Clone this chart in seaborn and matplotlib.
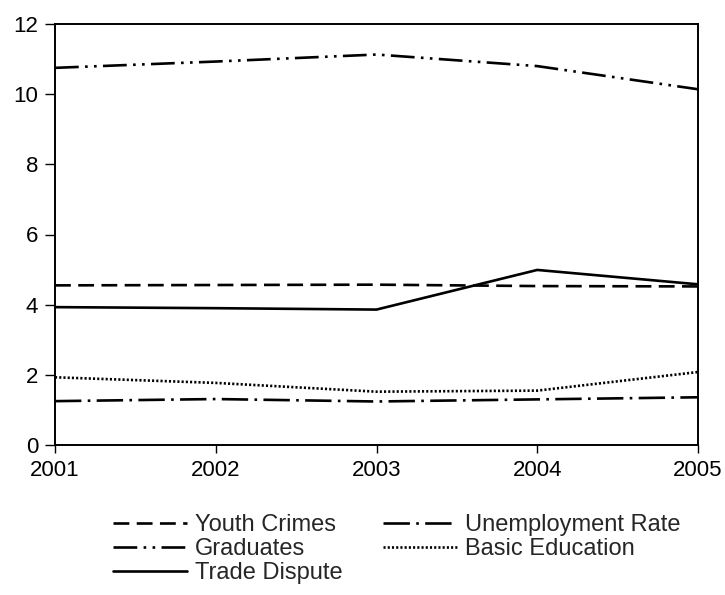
import matplotlib
matplotlib.use("Agg")
import matplotlib.pyplot as plt
import seaborn as sns
import pandas as pd
from matplotlib.lines import Line2D

years = [2001, 2002, 2003, 2004, 2005]
series_names = ["Youth Crimes", "Graduates", "Trade Dispute", "Unemployment Rate", "Basic Education"]
youth_crimes = [4.55, 4.56, 4.57, 4.53, 4.52]
graduates = [10.75, 10.93, 11.13, 10.80, 10.14]
trade_dispute = [3.93, 3.90, 3.86, 4.99, 4.58]
unemployment_rate = [1.25, 1.31, 1.24, 1.30, 1.36]
basic_education = [1.93, 1.77, 1.52, 1.55, 2.08]

values = [youth_crimes, graduates, trade_dispute, unemployment_rate, basic_education]
rows = []
for name, vals in zip(series_names, values):
    for y, v in zip(years, vals):
        rows.append({"Year": y, "Value": v, "Series": name})
df = pd.DataFrame(rows)

sns.set_theme(style="ticks")
plt.rcParams['font.family'] = ['Liberation Sans', 'DejaVu Sans']

fig = plt.figure(figsize=(7.25, 5.95), dpi=100)
ax = fig.add_axes([55/725, 1-445/595, (698-55)/725, (445-24)/595])

dashes = {
    "Youth Crimes": (6, 2.8),
    "Graduates": (9, 2.4, 1, 2.4, 1, 2.4),
    "Trade Dispute": "",
    "Unemployment Rate": (10, 2.4, 1, 2.4),
    "Basic Education": (0.8, 0.8),
}
palette = {n: "black" for n in series_names}
sns.lineplot(data=df, x="Year", y="Value", hue="Series", style="Series",
             dashes=dashes, palette=palette, hue_order=series_names,
             style_order=series_names, linewidth=1.9, ax=ax, legend=False)

ax.set_xlim(2001, 2005)
ax.set_ylim(0, 12)
ax.set_xticks(years)
ax.set_xticklabels([str(y) for y in years])
ax.set_yticks([0, 2, 4, 6, 8, 10, 12])
ax.set_xlabel("")
ax.set_ylabel("")
for s in ax.spines.values():
    s.set_visible(True)
    s.set_linewidth(1.4)
    s.set_color("black")
ax.tick_params(direction="out", width=1, labelsize=16, colors="black")
ax.tick_params(axis="x", length=6, pad=5)
ax.tick_params(axis="y", length=7, pad=5)
ax.grid(False)

handles = []
for n in series_names:
    d = dashes[n]
    if d == "":
        h = Line2D([0], [0], color="black", lw=1.9, linestyle="-")
    else:
        h = Line2D([0], [0], color="black", lw=1.9, linestyle=(0, d))
    handles.append(h)
fig.legend(handles, series_names, loc="upper left", bbox_to_anchor=(113/725, 1-514/595),
           ncol=2, frameon=False, fontsize=17, handlelength=3.13, labelspacing=0.08,
           columnspacing=1.72, handletextpad=0.34, borderaxespad=0, borderpad=0)

fig.savefig("out.png", dpi=100)
